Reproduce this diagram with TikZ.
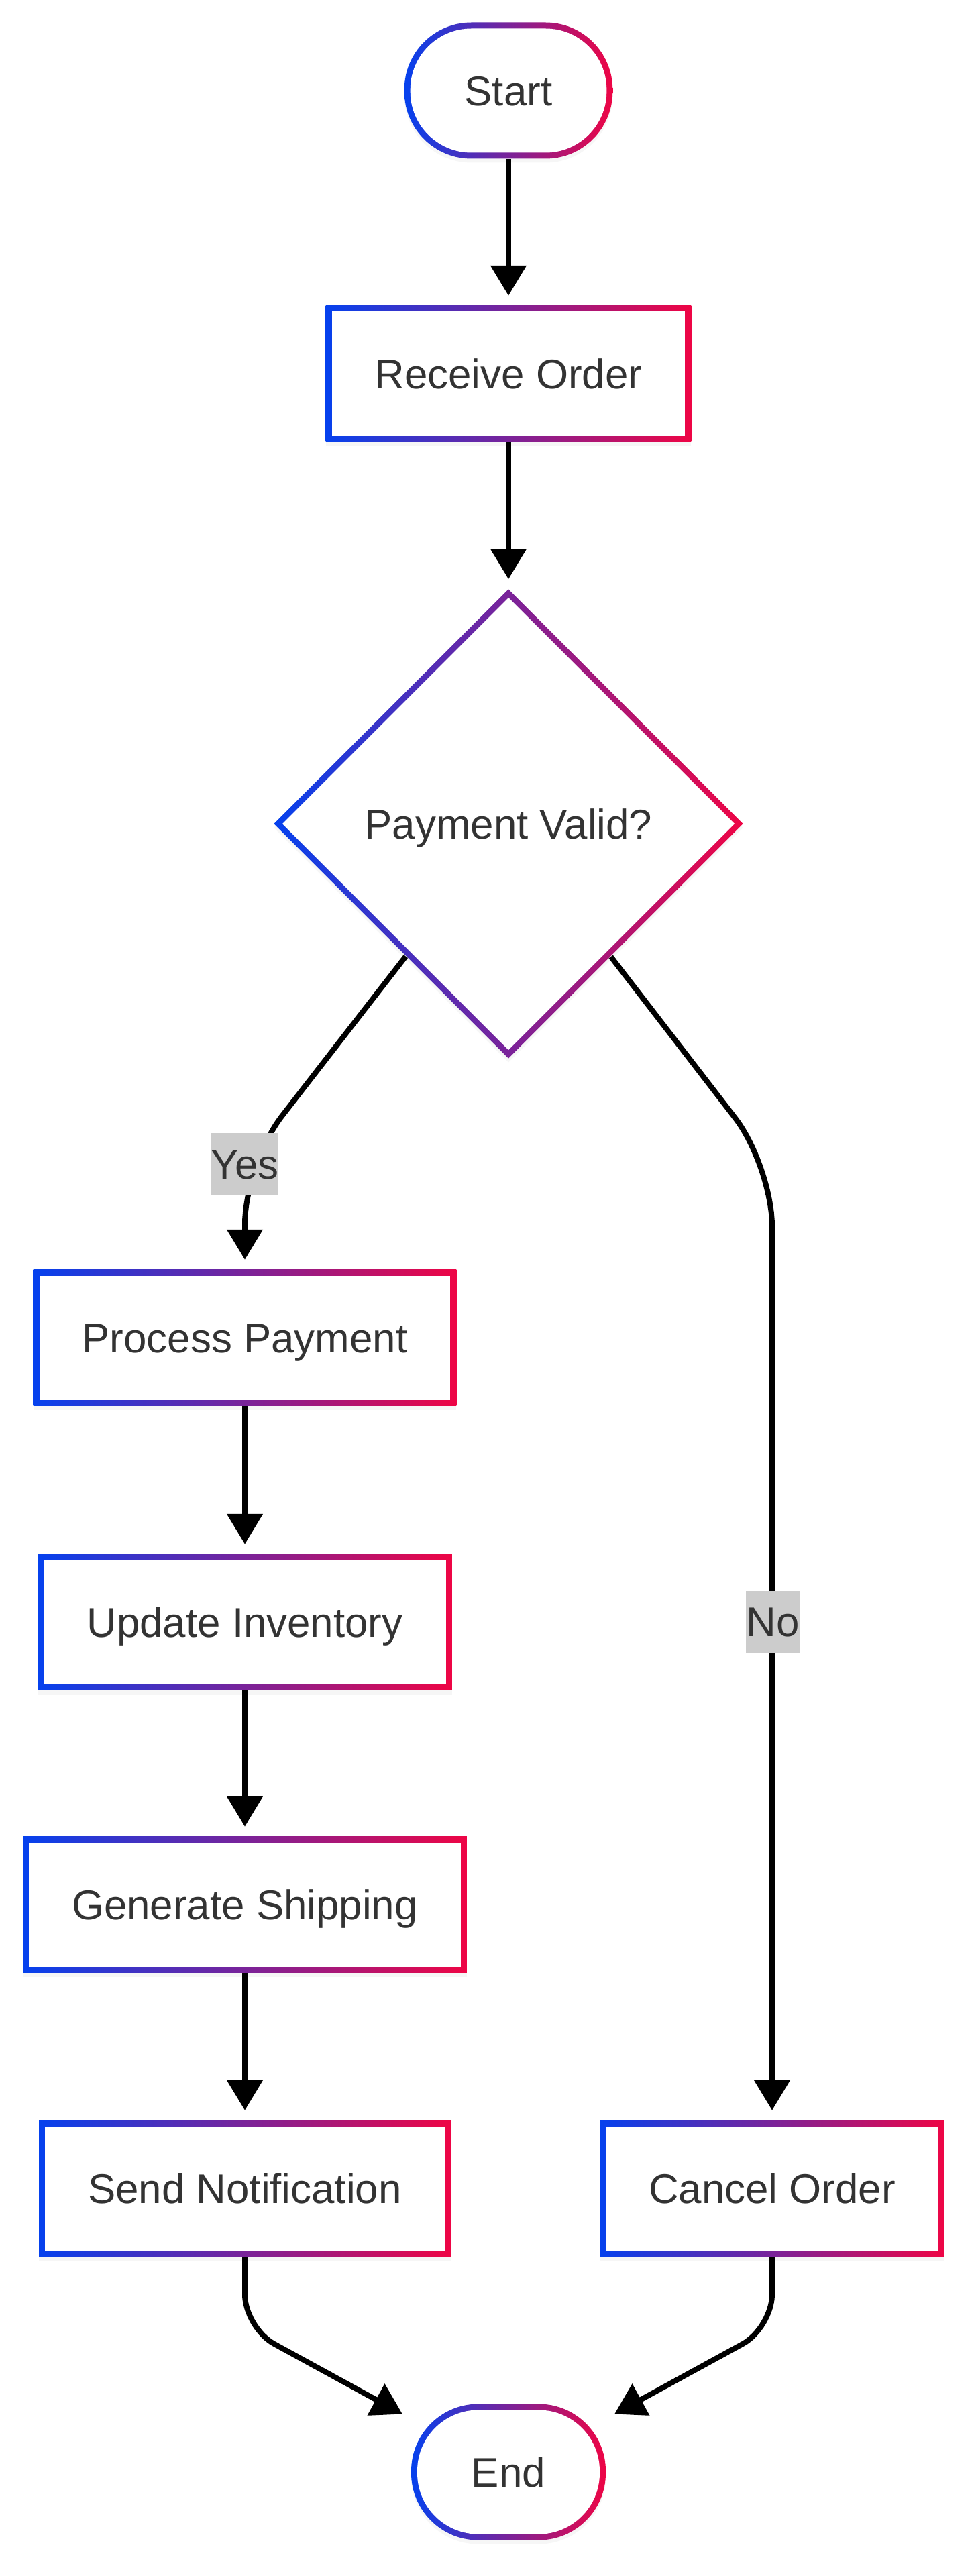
\documentclass[tikz,border=0pt]{standalone}
\usepackage{fontspec}
\setmainfont{Liberation Sans}
\usepackage{xcolor}
\usetikzlibrary{shapes.geometric}
\usetikzlibrary{arrows.meta}
\usetikzlibrary{shadows}

\definecolor{ringblue}{HTML}{0541EE}
\definecolor{ringred}{HTML}{EE0545}
\definecolor{labelgray}{HTML}{CCCCCC}
\definecolor{textgray}{HTML}{333333}

\begin{document}
\begin{tikzpicture}[
    % Gradient frame colours
    ring shade/.style={left color=ringblue, right color=ringred},
    % Faint shadow under the nodes
    soft shadow/.style={drop shadow={opacity=0.07, shadow xshift=0cm, shadow yshift=-0.06cm}},
    % Common text look
    node text/.style={font=\fontsize{17.6pt}{21pt}\selectfont, text=textgray, text height=0.45cm, text depth=0cm},
    % Rectangular step with a gradient frame
    proc node/.style={rectangle, node text, fill=white, soft shadow, minimum height=2.03cm, inner xsep=0.73cm, inner ysep=0pt,
      path picture={
        \shade[ring shade] (path picture bounding box.south west) rectangle (path picture bounding box.north east);
        \fill[white] ([shift={(0.09,0.09)}]path picture bounding box.south west) rectangle ([shift={(-0.09,-0.09)}]path picture bounding box.north east);
      }},
    % Rounded start / end node
    term node/.style={rectangle, rounded corners=1cm, node text, fill=white, soft shadow, minimum height=2.03cm, inner xsep=0.9cm, inner ysep=0pt,
      path picture={
        \shade[ring shade, sharp corners] (path picture bounding box.south west) rectangle (path picture bounding box.north east);
        \fill[white, rounded corners=0.91cm] ([shift={(0.09,0.09)}]path picture bounding box.south west) rectangle ([shift={(-0.09,-0.09)}]path picture bounding box.north east);
      }},
    % Decision diamond
    decision node/.style={diamond, aspect=1, node text, fill=white, soft shadow, minimum size=7cm, inner sep=0pt,
      path picture={
        \shade[ring shade] (path picture bounding box.south west) rectangle (path picture bounding box.north east);
        \fill[white] ([yshift=-0.127cm]path picture bounding box.north) -- ([xshift=-0.127cm]path picture bounding box.east)
          -- ([yshift=0.127cm]path picture bounding box.south) -- ([xshift=0.127cm]path picture bounding box.west) -- cycle;
      }},
    % Black connector
    my edge/.style={-{Triangle[length=0.45cm, width=0.52cm]}, line width=0.08cm, draw=black, shorten >=0.14cm},
    % Grey box on a connector
    edge label/.style={node text, fill=labelgray, inner xsep=0pt, inner ysep=0pt, minimum height=0.93cm}
  ]

  \useasboundingbox (0,0) rectangle (14.51,-38.4);

  % --- Node Definitions ---
  \node[term node]     (start)     at (7.58, -1.35)  {Start};
  \node[proc node]     (receive)   at (7.58, -5.57)  {Receive Order};
  \node[decision node] (valid)     at (7.58, -12.28) {Payment Valid?};
  \node[proc node]     (process)   at (3.65, -19.94) {Process Payment};
  \node[proc node]     (inventory) at (3.65, -24.18) {Update Inventory};
  \node[proc node]     (shipping)  at (3.65, -28.39) {Generate Shipping};
  \node[proc node]     (notify)    at (3.65, -32.62) {Send Notification};
  \node[proc node]     (cancel)    at (11.51, -32.62) {Cancel Order};
  \node[term node]     (finish)    at (7.58, -36.85) {End};

  % bends of the routed edges
  \coordinate (yes bend)    at (3.65, -17.35);
  \coordinate (no bend)     at (11.51, -17.38);
  \coordinate (notify bend) at (3.65, -34.70);
  \coordinate (cancel bend) at (11.51, -34.70);

  % --- Edge Definitions ---
  \begin{scope}[my edge]
    % Straight edges
    \draw (start) -- (receive);
    \draw (receive) -- (valid);
    \draw (process) -- (inventory);
    \draw (inventory) -- (shipping);
    \draw (shipping) -- (notify);

    % Branches out of the decision
    \draw[rounded corners=0.9cm] (valid) -- (yes bend) -- (process);
    \draw[rounded corners=0.9cm] (valid) -- (no bend) -- (cancel);

    % Both paths join at the end
    \draw[rounded corners=0.5cm] (notify) -- (notify bend) -- (finish);
    \draw[rounded corners=0.5cm] (cancel) -- (cancel bend) -- (finish);
  \end{scope}

  % --- Edge Labels ---
  \node[edge label] (yes) at (yes bend)      {Yes};
  \node[edge label] (no)  at (11.52, -24.17) {No};

\end{tikzpicture}
\end{document}
